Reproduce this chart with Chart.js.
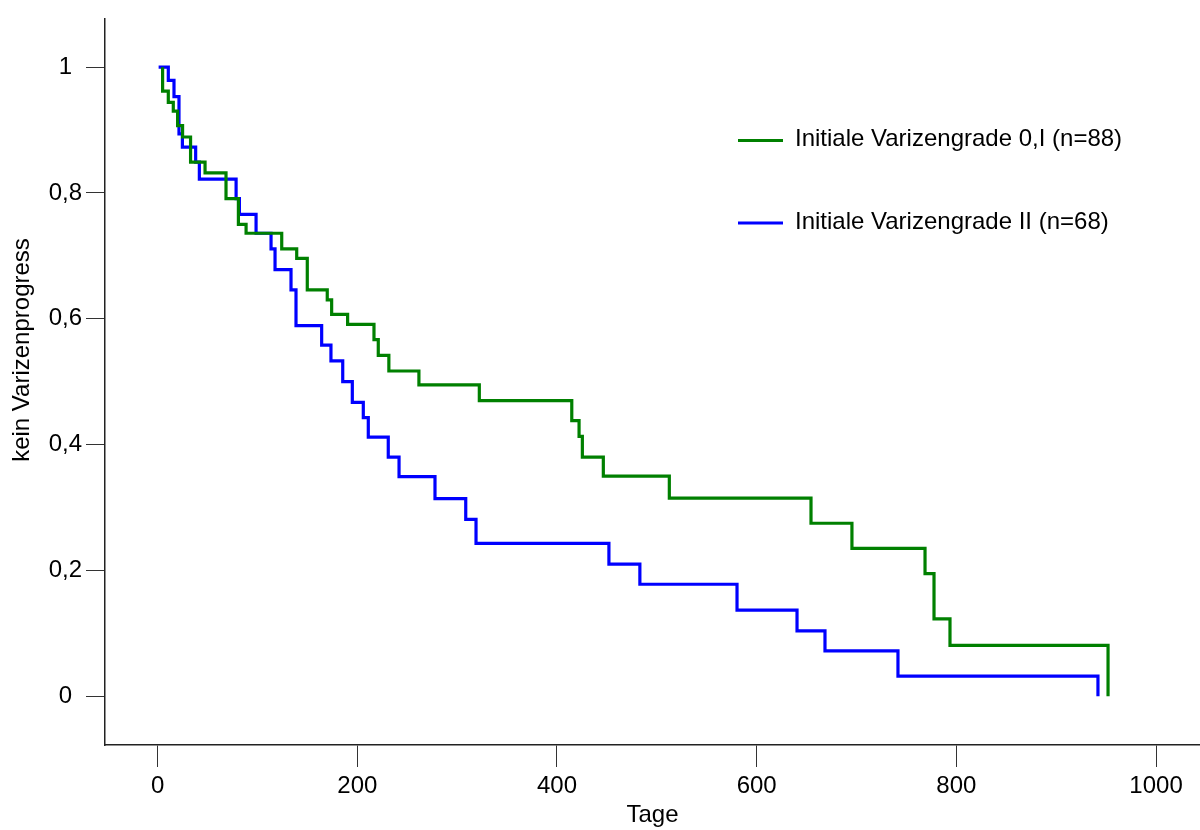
<!DOCTYPE html>
<html>
<head>
<meta charset="utf-8">
<script src="https://cdn.jsdelivr.net/npm/chart.js@4/dist/chart.umd.min.js"></script>
<style>
  body { margin: 0; background: #fff; }
  #wrap { width: 1200px; height: 830px; }
</style>
</head>
<body>
<div id="wrap"><canvas id="km" width="1200" height="830"></canvas></div>
<script>
// Kaplan-Meier: Tage bis Varizenprogress
const seriesLabels = ["Initiale Varizengrade 0,I (n=88)", "Initiale Varizengrade II (n=68)"];
const seriesColors = ["#008000", "#0000ff"];

const greenDays = [5, 5, 10.7, 15.7, 20, 25, 33, 47.5, 68.5, 80.9, 88.6, 124.3, 139.3, 149.9, 169.9, 174.3,
	190.3, 216.7, 221, 231.6, 261.7, 322.2, 414.8, 422.1, 425.4, 446.4, 512.5, 654.4, 695.4, 768.6,
	777.6, 793.6, 951.9];
const greenSurv = [1, 0.962, 0.944, 0.930, 0.907, 0.889, 0.849, 0.832, 0.791, 0.750, 0.736, 0.711, 0.696, 0.646, 0.630, 0.607,
	0.591, 0.567, 0.542, 0.517, 0.495, 0.470, 0.438, 0.413, 0.380, 0.350, 0.315, 0.275, 0.235, 0.195,
	0.123, 0.081, 0];

const blueDays = [1, 10.7, 16.4, 21.4, 24.8, 38.1, 41.8, 78.6, 81.9, 98.6, 113.6, 117.6, 133.6, 138.6, 164.3,
	173.6, 185.4, 195, 206, 211, 231, 241.8, 277.8, 308.6, 318.9, 452, 483, 580.3, 640.4, 668.4,
	741.5, 941.8];
const blueSurv = [1, 0.979, 0.953, 0.894, 0.873, 0.849, 0.822, 0.791, 0.766, 0.736, 0.711, 0.678, 0.646, 0.589, 0.558,
	0.533, 0.500, 0.467, 0.443, 0.412, 0.380, 0.349, 0.314, 0.281, 0.243, 0.210, 0.178, 0.137, 0.104, 0.072,
	0.032, 0];

const xTicks = [0, 200, 400, 600, 800, 1000];
const xTickLabels = ["0", "200", "400", "600", "800", "1000"];
const yTicks = [0, 0.2, 0.4, 0.6, 0.8, 1];
const yTickLabels = ["0", "0,2", "0,4", "0,6", "0,8", "1"];

const FONT = "'Liberation Sans', Arial, sans-serif";
const SIZE = 24;

const toPoints = (days, surv) => days.map((d, i) => ({ x: d, y: surv[i] }));

// legend and y title drawn by hand at the positions of the original
const extras = {
	id: "extras",
	afterDraw(chart) {
		const c = chart.ctx;
		c.save();
		c.font = SIZE + "px " + FONT;
		c.fillStyle = "#000";
		c.textBaseline = "middle";
		const rows = [140.5, 223];
		chart.data.datasets.forEach((ds, i) => {
			c.strokeStyle = ds.borderColor;
			c.lineWidth = 3.2;
			c.beginPath();
			c.moveTo(738, rows[i]);
			c.lineTo(783, rows[i]);
			c.stroke();
			c.textAlign = "left";
			c.fillText(ds.label, 795, rows[i] - 1);
		});
		c.translate(22, 350);
		c.rotate(-Math.PI / 2);
		c.textAlign = "center";
		c.fillText("kein Varizenprogress", 0, 0);
		c.restore();
	},
};

const data = {
	datasets: [
		{
			label: seriesLabels[0],
			data: toPoints(greenDays, greenSurv),
			borderColor: seriesColors[0],
			borderWidth: 3.2,
			stepped: true,
			pointRadius: 0,
			fill: false,
		},
		{
			label: seriesLabels[1],
			data: toPoints(blueDays, blueSurv),
			borderColor: seriesColors[1],
			borderWidth: 3.2,
			stepped: true,
			pointRadius: 0,
			fill: false,
		},
	],
};

const options = {
	responsive: false,
	animation: false,
	layout: { padding: { top: 15, right: 0, left: 0, bottom: 0 } },
	plugins: {
		legend: { display: false },
		tooltip: { enabled: false },
	},
	scales: {
		x: {
			type: "linear",
			min: -52.7,
			max: 1044,
			afterBuildTicks: (scale) => {
				scale.ticks = xTicks.map((v) => ({ value: v }));
			},
			afterFit: (scale) => {
				scale.height = 85;
			},
			border: { display: true, color: "#222", width: 1.5 },
			grid: { drawOnChartArea: false, drawTicks: true, tickLength: 22, color: "#333", lineWidth: 1 },
			ticks: {
				padding: 5,
				maxRotation: 0,
				color: "#000",
				font: { family: FONT, size: SIZE },
				callback: (value) => xTickLabels[xTicks.indexOf(value)],
			},
			title: {
				display: true,
				text: "Tage",
				color: "#000",
				padding: 0,
				font: { family: FONT, size: SIZE },
			},
		},
		y: {
			type: "linear",
			min: -0.0775,
			max: 1.0775,
			afterBuildTicks: (scale) => {
				scale.ticks = yTicks.map((v) => ({ value: v }));
			},
			afterFit: (scale) => {
				scale.width = 105;
			},
			border: { display: true, color: "#222", width: 1.5 },
			grid: { drawOnChartArea: false, drawTicks: true, tickLength: 19, color: "#333", lineWidth: 1 },
			ticks: {
				padding: 4,
				crossAlign: "center",
				color: "#000",
				font: { family: FONT, size: SIZE },
				callback: (value) => yTickLabels[yTicks.indexOf(value)],
			},
		},
	},
};

new Chart(document.getElementById("km"), {
	type: "line",
	data: data,
	options: options,
	plugins: [extras],
});
</script>
</body>
</html>
